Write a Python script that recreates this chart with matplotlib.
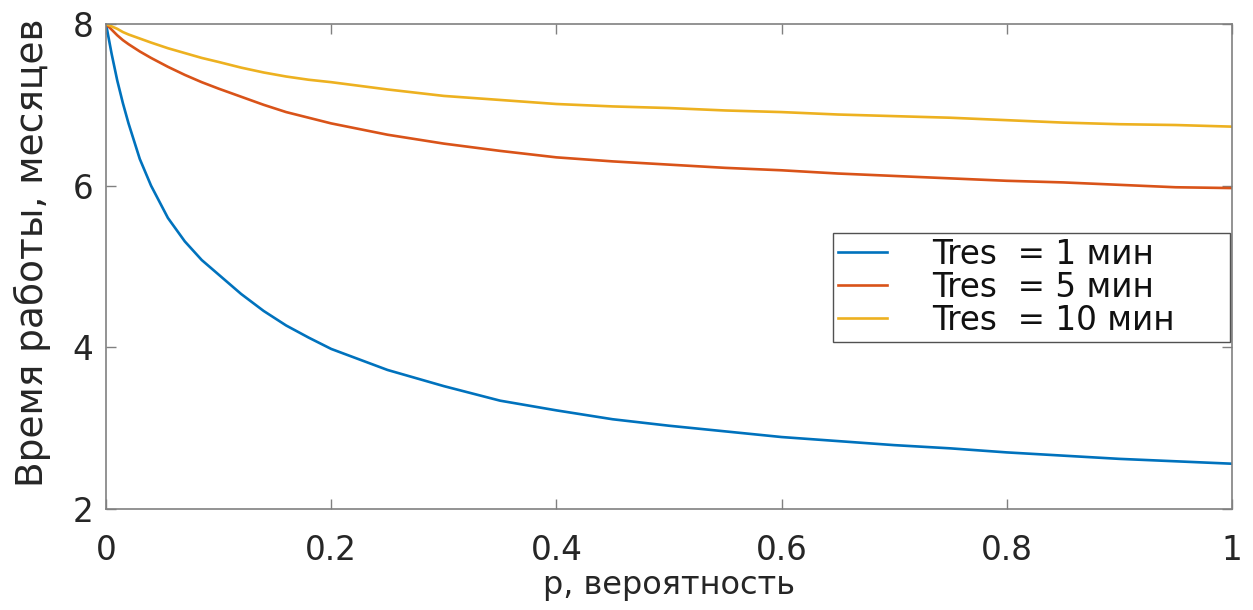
import numpy as np
import matplotlib
matplotlib.use("Agg")
import matplotlib.pyplot as plt

p = [0, 0.005, 0.01, 0.015, 0.02, 0.03, 0.04, 0.055, 0.07, 0.085, 0.1, 0.12, 0.14,
     0.16, 0.18, 0.2, 0.25, 0.3, 0.35, 0.4, 0.45, 0.5, 0.55, 0.6, 0.65, 0.7, 0.75,
     0.8, 0.85, 0.9, 0.95, 1.0]

t_1min = [8.0, 7.63, 7.30, 7.02, 6.77, 6.33, 6.00, 5.60, 5.31, 5.08, 4.90, 4.66, 4.45,
          4.27, 4.12, 3.98, 3.72, 3.52, 3.34, 3.22, 3.11, 3.03, 2.96, 2.89, 2.84, 2.79,
          2.75, 2.70, 2.66, 2.62, 2.59, 2.56]
t_5min = [8.0, 7.93, 7.86, 7.80, 7.75, 7.66, 7.58, 7.47, 7.37, 7.28, 7.20, 7.10, 7.00,
          6.91, 6.84, 6.77, 6.63, 6.52, 6.43, 6.35, 6.30, 6.26, 6.22, 6.19, 6.15, 6.12,
          6.09, 6.06, 6.04, 6.01, 5.98, 5.97]
t_10min = [8.0, 7.97, 7.94, 7.90, 7.87, 7.82, 7.77, 7.70, 7.64, 7.58, 7.53, 7.46, 7.40,
           7.35, 7.31, 7.28, 7.19, 7.11, 7.06, 7.01, 6.98, 6.96, 6.93, 6.91, 6.88, 6.86,
           6.84, 6.81, 6.78, 6.76, 6.75, 6.73]

labels = ["Tres  = 1 мин", "Tres  = 5 мин", "Tres  = 10 мин"]
colors = ["#0072BD", "#D95319", "#EDB120"]

plt.rcParams['font.family'] = ['DejaVu Sans']

fig = plt.figure(figsize=(12.53, 6.10), dpi=100)
ax = fig.add_axes([0.0846, 0.1656, 0.8986, 0.7951])

for y, lab, c in zip([t_1min, t_5min, t_10min], labels, colors):
    ax.plot(p, y, color=c, lw=1.9, label=lab)

ax.set_xlim(0, 1)
ax.set_ylim(2, 8)
ax.set_xticks([0, 0.2, 0.4, 0.6, 0.8, 1])
ax.set_xticklabels(["0", "0.2", "0.4", "0.6", "0.8", "1"])
ax.set_yticks([2, 4, 6, 8])

axcol = "#808080"
for s in ax.spines.values():
    s.set_color(axcol)
    s.set_linewidth(1.2)
ax.tick_params(direction="in", top=True, right=True, length=7, width=1.0,
               color=axcol, labelsize=23.5, labelcolor="#262626")
ax.tick_params(axis="x", pad=18)
ax.tick_params(axis="y", pad=9)

ax.set_xlabel("p, вероятность", fontsize=23, color="#262626", labelpad=2)
ax.set_ylabel("Время работы, месяцев", fontsize=27, color="#262626")
ax.yaxis.set_label_coords(-0.049, 0.528)

leg = ax.legend(loc="upper left", bbox_to_anchor=(0.6456, 0.332, 0.3525, 0.237),
                mode="expand", borderaxespad=0, fontsize=23.5,
                frameon=True, fancybox=False, handlelength=1.5, handletextpad=1.4,
                labelspacing=0.0, borderpad=0.15)
leg.get_frame().set_edgecolor("#262626")
leg.get_frame().set_linewidth(1.0)
for t in leg.get_texts():
    t.set_color("#111111")

fig.savefig("out.png", dpi=100)
